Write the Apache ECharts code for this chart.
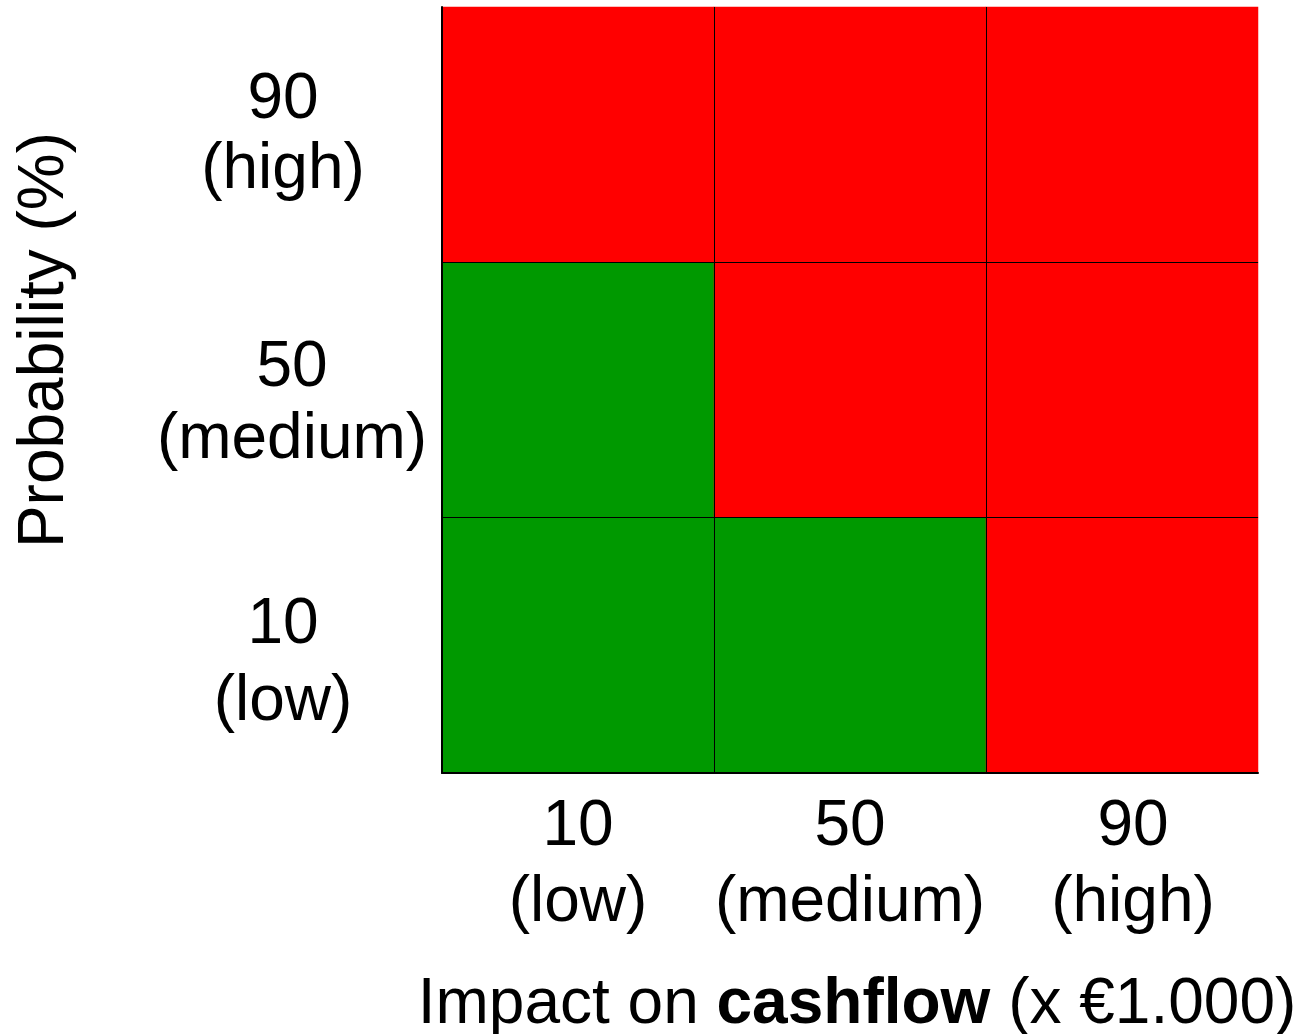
<!DOCTYPE html>
<html>
<head>
<meta charset="utf-8">
<title>Risk matrix</title>
<script src="https://cdn.jsdelivr.net/npm/echarts@6/dist/echarts.min.js"></script>
<style>
  html, body { margin: 0; padding: 0; background: #ffffff; }
  #chart { width: 1301px; height: 1034px; }
</style>
</head>
<body>
<div id="chart"></div>
<script>
// Impact classes (x axis, left to right)
const impactLevels = ['10\n(low)', '50\n(medium)', '90\n(high)'];
// Probability classes (y axis, bottom to top)
const probabilityLevels = ['10\n(low)', '50\n(medium)', '90\n(high)'];
// Risk zone per cell: rows follow probabilityLevels, columns follow impactLevels
// 0 = acceptable (green), 1 = unacceptable (red)
const zoneLowProb = [0, 0, 1];
const zoneMediumProb = [0, 1, 1];
const zoneHighProb = [1, 1, 1];
const zoneColors = ['#009900', '#ff0000'];

const zoneRows = [zoneLowProb, zoneMediumProb, zoneHighProb];
const cells = [];
zoneRows.forEach(function (row, yi) {
  row.forEach(function (zone, xi) {
    cells.push([xi, yi, zone]);
  });
});

const FONT = '"Liberation Sans", Arial, Helvetica, sans-serif';
const FS = 64;

function tok(extra) {
  return Object.assign({ fontSize: FS, fontFamily: FONT, color: '#000' }, extra);
}

const chart = echarts.init(document.getElementById('chart'), null, { renderer: 'canvas' });

chart.setOption({
  backgroundColor: '#ffffff',
  animation: false,
  grid: { left: 442, right: 43, top: 7, bottom: 261, containLabel: false, outerBoundsMode: 'none' },
  xAxis: {
    type: 'category',
    data: impactLevels,
    z: 10,
    axisLine: { show: true, lineStyle: { color: '#000', width: 2 } },
    axisTick: { show: false, interval: 0 },
    splitLine: { show: true, interval: 0, showMinLine: false, showMaxLine: false, lineStyle: { color: '#000', width: 1 } },
    axisLabel: {
      interval: 0,
      hideOverlap: false,
      margin: 16,
      fontSize: FS,
      fontFamily: FONT,
      color: '#000',
      formatter: function (value, index) {
        const parts = value.split('\n');
        return '{x' + index + '|' + parts[0] + '}\n{x' + index + '|' + parts[1] + '}';
      },
      rich: {
        x0: tok({ lineHeight: 76 }),
        x1: tok({ lineHeight: 76 }),
        x2: tok({ lineHeight: 76, padding: [0, 0, 0, 22] })
      }
    },
    name: 'Impact on {b|cashflow} (x €1.000)',
    nameLocation: 'middle',
    nameGap: 200,
    nameTextStyle: {
      fontSize: FS,
      fontFamily: FONT,
      color: '#000',
      lineHeight: 64,
      padding: [0, 0, 0, 14],
      rich: {
        b: { fontSize: FS, fontFamily: FONT, fontWeight: 'bold', color: '#000', lineHeight: 64 }
      }
    }
  },
  yAxis: {
    type: 'category',
    data: probabilityLevels,
    z: 10,
    axisLine: { show: true, lineStyle: { color: '#000', width: 2 } },
    axisTick: { show: false, interval: 0 },
    splitLine: { show: true, interval: 0, showMinLine: false, showMaxLine: false, lineStyle: { color: '#000', width: 1 } },
    axisLabel: {
      interval: 0,
      hideOverlap: false,
      margin: 159,
      align: 'center',
      fontSize: FS,
      fontFamily: FONT,
      color: '#000',
      formatter: function (value, index) {
        const parts = value.split('\n');
        return '{a' + index + '|' + parts[0] + '}\n{b' + index + '|' + parts[1] + '}';
      },
      rich: {
        a0: tok({ lineHeight: 115 }),
        b0: tok({ lineHeight: 39 }),
        a1: tok({ lineHeight: 100, padding: [0, 0, 0, 18] }),
        b1: tok({ lineHeight: 44, padding: [0, 0, 0, 18] }),
        a2: tok({ lineHeight: 71 }),
        b2: tok({ lineHeight: 69 })
      }
    },
    name: 'Probability (%)',
    nameLocation: 'middle',
    nameRotate: 90,
    nameGap: 365,
    nameTextStyle: {
      fontSize: FS,
      fontFamily: FONT,
      color: '#000',
      lineHeight: 64,
      padding: [0, 0, 0, 100]
    }
  },
  visualMap: {
    show: false,
    type: 'piecewise',
    dimension: 2,
    pieces: [
      { value: 0, color: zoneColors[0] },
      { value: 1, color: zoneColors[1] }
    ]
  },
  series: [{
    type: 'heatmap',
    data: cells,
    label: { show: false },
    itemStyle: { borderWidth: 0 },
    emphasis: { disabled: true }
  }]
});
</script>
</body>
</html>
